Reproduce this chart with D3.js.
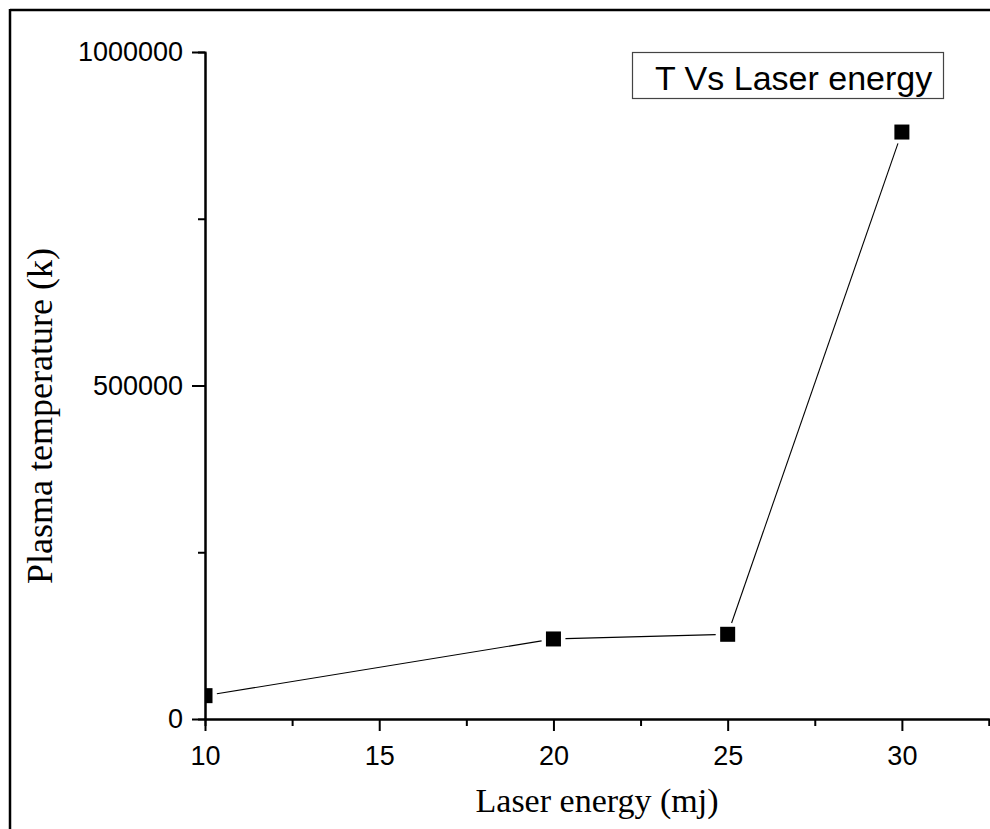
<!DOCTYPE html>
<html>
<head>
<meta charset="utf-8">
<script src="https://cdn.jsdelivr.net/npm/d3@7"></script>
<style>
  html, body { margin: 0; padding: 0; background: #fff; }
  svg { display: block; }
</style>
</head>
<body>
<div id="chart"></div>
<script>
// Data
const laserEnergy = [10, 20, 25, 30];
const plasmaTemp = [35000, 120000, 127000, 880000];
const xMajorTicks = [10, 15, 20, 25, 30];
const xMinorTicks = [12.5, 17.5, 22.5, 27.5, 32.5];
const yMajorTicks = [0, 500000, 1000000];
const yMinorTicks = [250000, 750000];
const legendLabel = "T Vs Laser energy";

const width = 990;
const height = 829;
const plot = { left: 205, right: 989, top: 52, bottom: 719 };

const sansFont = "'Liberation Sans', Arial, sans-serif";
const serifFont = "'Liberation Serif', 'Times New Roman', serif";

const svg = d3
  .select("#chart")
  .append("svg")
  .attr("width", width)
  .attr("height", height);

// outer frame (top and left edges only visible)
svg.append("line")
  .attr("x1", 10).attr("y1", 10).attr("x2", width).attr("y2", 10)
  .attr("stroke", "#000").attr("stroke-width", 2.5);
svg.append("line")
  .attr("x1", 10).attr("y1", 9).attr("x2", 10).attr("y2", height)
  .attr("stroke", "#000").attr("stroke-width", 2.5);

// Scales
const x = d3.scaleLinear().domain([10, 32.5]).range([plot.left, plot.right]);
const y = d3.scaleLinear().domain([0, 1000000]).range([plot.bottom, plot.top]);

// Axes
const styleAxis = (g) => {
  g.select(".domain").attr("stroke", "#000").attr("stroke-width", 2);
  g.selectAll(".tick line").attr("stroke", "#000").attr("stroke-width", 2);
  g.selectAll(".tick text")
    .attr("fill", "#000")
    .style("font-family", sansFont)
    .style("font-size", "27px");
};

svg.append("g")
  .attr("transform", `translate(0,${plot.bottom})`)
  .call(d3.axisBottom(x).tickValues(xMinorTicks).tickSize(7).tickFormat(""))
  .call(styleAxis);

svg.append("g")
  .attr("transform", `translate(0,${plot.bottom})`)
  .call(d3.axisBottom(x).tickValues(xMajorTicks).tickSize(12).tickPadding(15).tickSizeOuter(0))
  .call(styleAxis);

svg.append("g")
  .attr("transform", `translate(${plot.left},0)`)
  .call(d3.axisLeft(y).tickValues(yMinorTicks).tickSize(7).tickFormat(""))
  .call(styleAxis);

svg.append("g")
  .attr("transform", `translate(${plot.left},0)`)
  .call(d3.axisLeft(y).tickValues(yMajorTicks).tickSize(13).tickPadding(9).tickSizeOuter(0).tickFormat(d3.format("d")))
  .call(styleAxis);

// Clip for the data
svg.append("clipPath")
  .attr("id", "plotClip")
  .append("rect")
  .attr("x", plot.left)
  .attr("y", plot.top - 10)
  .attr("width", plot.right - plot.left + 10)
  .attr("height", plot.bottom - plot.top + 10);

const dataG = svg.append("g").attr("clip-path", "url(#plotClip)");

const points = laserEnergy.map((e, i) => ({ e, t: plasmaTemp[i] }));

// line segments with a small gap around each marker
const gap = 12;
d3.pairs(points).forEach(([a, b]) => {
  const x1 = x(a.e), y1 = y(a.t), x2 = x(b.e), y2 = y(b.t);
  const len = Math.hypot(x2 - x1, y2 - y1);
  const ux = (x2 - x1) / len, uy = (y2 - y1) / len;
  dataG.append("line")
    .attr("x1", x1 + ux * gap).attr("y1", y1 + uy * gap)
    .attr("x2", x2 - ux * gap).attr("y2", y2 - uy * gap)
    .attr("stroke", "#000")
    .attr("stroke-width", 1.1);
});

// markers
const size = 15;
dataG.selectAll("rect.marker")
  .data(points)
  .enter()
  .append("rect")
  .attr("class", "marker")
  .attr("x", (d) => x(d.e) - size / 2)
  .attr("y", (d) => y(d.t) - size / 2)
  .attr("width", size)
  .attr("height", size)
  .attr("fill", "#000");

// Legend
svg.append("rect")
  .attr("x", 632.5).attr("y", 52.5)
  .attr("width", 311).attr("height", 46)
  .attr("fill", "#fff")
  .attr("stroke", "#444")
  .attr("stroke-width", 1.2);
svg.append("text")
  .attr("x", 655).attr("y", 90)
  .style("font-family", sansFont)
  .style("font-size", "34px")
  .attr("fill", "#000")
  .text(legendLabel);

// Axis titles
svg.append("text")
  .attr("x", (plot.left + plot.right) / 2)
  .attr("y", 812)
  .attr("text-anchor", "middle")
  .style("font-family", serifFont)
  .style("font-size", "34px")
  .attr("fill", "#000")
  .text("Laser energy (mj)");

svg.append("text")
  .attr("transform", "translate(52,416) rotate(-90)")
  .attr("text-anchor", "middle")
  .style("font-family", serifFont)
  .style("font-size", "36px")
  .attr("fill", "#000")
  .text("Plasma temperature (k)");
</script>
</body>
</html>
